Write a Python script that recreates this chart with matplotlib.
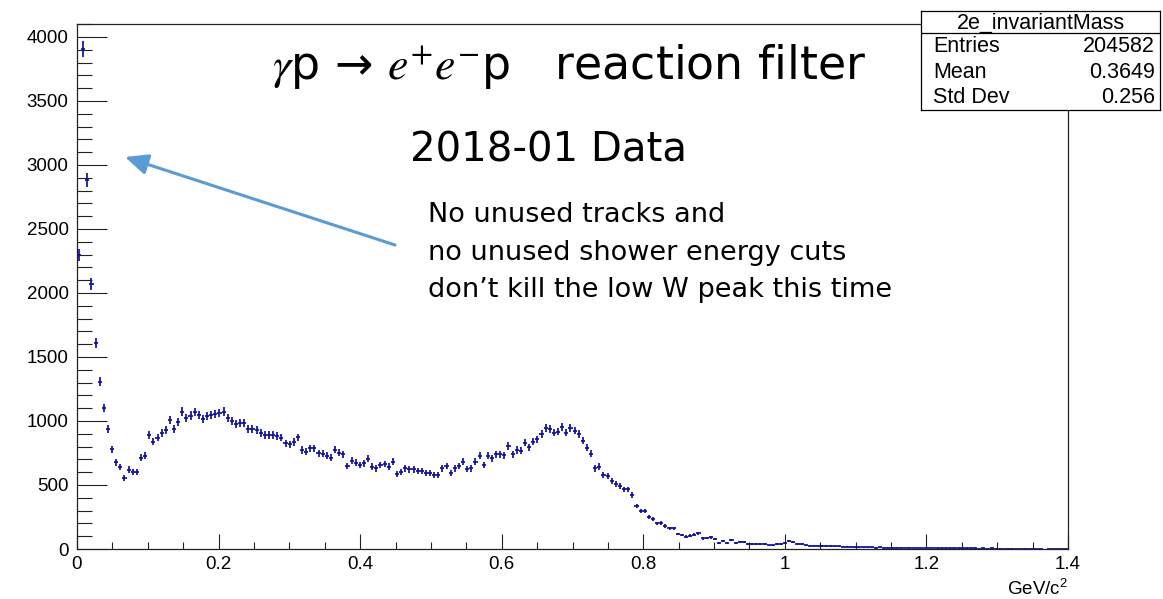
import numpy as np
import matplotlib.pyplot as plt
from matplotlib.ticker import MultipleLocator

# histogram of the e+e- invariant mass, 240 bins from 0 to 1.4 GeV/c^2
x_min, x_max = 0.0, 1.4
counts = [
    2297, 3906, 2883, 2070, 1612, 1307, 1100, 937, 779, 677, 640, 556, 620,
    604, 604, 714, 727, 891, 838, 870, 904, 930, 1008, 938, 995, 1073, 1026, 1042, 1068, 1047,
    1016, 1040, 1047, 1055, 1060, 1073, 1021, 1000, 974, 982, 982, 935, 935, 927, 904, 891, 891, 891, 885, 870,
    826, 818, 835, 872, 773, 760, 786, 786, 747, 744, 727, 714, 777, 752, 740, 650, 690, 674, 656, 669,
    705, 643, 630, 656, 664, 643, 682, 586, 604, 630, 622, 622, 609, 609, 596, 596, 578, 578, 630, 648,
    596, 630, 648, 682, 625, 630, 682, 727, 656, 727, 708, 742, 742, 734, 805, 742, 773, 766, 831, 794,
    838, 857, 898, 943, 935, 909, 917, 956, 909, 943, 925, 898, 846, 792, 745, 630, 643, 578, 568, 534,
    510, 492, 466, 466, 422, 336, 299, 297, 247, 232, 200, 203, 180, 161, 161, 117, 109, 96, 104, 112,
    122, 83, 88, 91, 76, 49, 62, 47, 70, 47, 52, 52, 39, 37, 37, 37, 37, 29, 29, 37,
    39, 49, 60, 57, 39, 39, 29, 26, 26, 26, 23, 23, 23, 20, 20, 18, 18, 18, 15, 15,
    14, 12, 13, 11, 12, 10, 11, 9, 10, 9,
    8, 9, 8, 7, 8, 7, 6, 7, 6, 6,
    5, 6, 5, 5, 4, 5, 4, 4, 3, 4,
    3, 4, 3, 3, 2, 3, 3, 2, 2, 3,
    2, 2, 1, 2, 0, 2, 1, 2, 1, 1,
]

xticks = [0, 0.2, 0.4, 0.6, 0.8, 1.0, 1.2, 1.4]
xtick_labels = ['0', '0.2', '0.4', '0.6', '0.8', '1', '1.2', '1.4']
yticks = [0, 500, 1000, 1500, 2000, 2500, 3000, 3500, 4000]
ytick_labels = [str(v) for v in yticks]

stats_title = '2e_invariantMass'
stats_names = ['Entries', 'Mean', 'Std Dev']
stats_values = ['204582', '0.3649', '0.256']

W, H = 1163, 599
plt.rcParams['mathtext.fontset'] = 'stix'

fig = plt.figure(figsize=(W / 100, H / 100), dpi=100)
ax = fig.add_axes([77 / W, 1 - 549 / H, (1068 - 77) / W, (549 - 24) / H])

counts = np.array(counts, dtype=float)
edges = np.linspace(x_min, x_max, len(counts) + 1)
centers = 0.5 * (edges[1:] + edges[:-1])
bw = edges[1] - edges[0]
nz = counts > 0

ax.errorbar(centers[nz], counts[nz], xerr=bw / 2, yerr=np.sqrt(counts[nz]),
            fmt='none', ecolor='#10109c', elinewidth=1.25, capsize=0)

ax.set_xlim(x_min, x_max)
ax.set_ylim(0, 1.05 * counts.max())
ax.set_xticks(xticks)
ax.set_xticklabels(xtick_labels)
ax.set_yticks(yticks)
ax.set_yticklabels(ytick_labels)
ax.xaxis.set_minor_locator(MultipleLocator(0.05))
ax.yaxis.set_minor_locator(MultipleLocator(100))
ax.tick_params(which='both', direction='in', top=False, right=False,
               labelfontfamily='Liberation Sans', labelsize=13.5, width=0.8, color='#222222')
ax.tick_params(axis='y', which='major', length=21.5, pad=6)
ax.tick_params(axis='y', which='minor', length=10.8)
ax.tick_params(axis='x', which='major', length=10.8, pad=5)
ax.tick_params(axis='x', which='minor', length=5.4)
for s in ax.spines.values():
    s.set_linewidth(0.9)
    s.set_color('#222222')

ax.set_xlabel(r'GeV/c$^{\mathregular{2}}$', family='Liberation Sans', fontsize=13.5,
              loc='right', labelpad=4)

# stats box
sb = fig.add_axes([921 / W, 1 - 110 / H, (1160 - 921) / W, (110 - 11) / H])
sb.set_xticks([])
sb.set_yticks([])
for s in sb.spines.values():
    s.set_linewidth(0.9)
sb.set_xlim(0, 1)
sb.set_ylim(0, 1)
sb.axhline(1 - (33 - 11) / 99, color='black', lw=0.9)
sb.text(0.5, 1 - (23 - 11) / 99, stats_title, ha='center', va='center',
        family='Liberation Sans', fontsize=15.5)
for i, (n, v) in enumerate(zip(stats_names, stats_values)):
    yy = 1 - (47 + 25.5 * i - 11) / 99
    sb.text(0.05, yy, n, ha='left', va='center', family='Liberation Sans', fontsize=15.5)
    sb.text(0.98, yy, v, ha='right', va='center', family='Liberation Sans', fontsize=15.5)

# slide text
fig.text(272 / W, 1 - 79 / H, r'$\gamma$p → $e^{+}e^{-}$p   reaction filter',
         fontsize=33, ha='left', va='baseline')
fig.text(410 / W, 1 - 162 / H, '2018-01 Data', fontsize=29, ha='left', va='baseline')
notes = ['No unused tracks and',
         'no unused shower energy cuts',
         'don’t kill the low W peak this time']
for i, line in enumerate(notes):
    fig.text(428 / W, 1 - (222 + 37.5 * i) / H, line, fontsize=19.5, ha='left', va='baseline')

fig.add_artist(plt.Annotation('', xy=(125 / W, 1 - 157 / H), xytext=(395 / W, 1 - 245 / H),
                              xycoords='figure fraction', textcoords='figure fraction',
                              arrowprops=dict(arrowstyle='-|>,head_length=1.0,head_width=0.45',
                                              color='#5b9bd5', lw=2.2, mutation_scale=14,
                                              shrinkA=0, shrinkB=0)))

fig.savefig('out.png', dpi=100)
